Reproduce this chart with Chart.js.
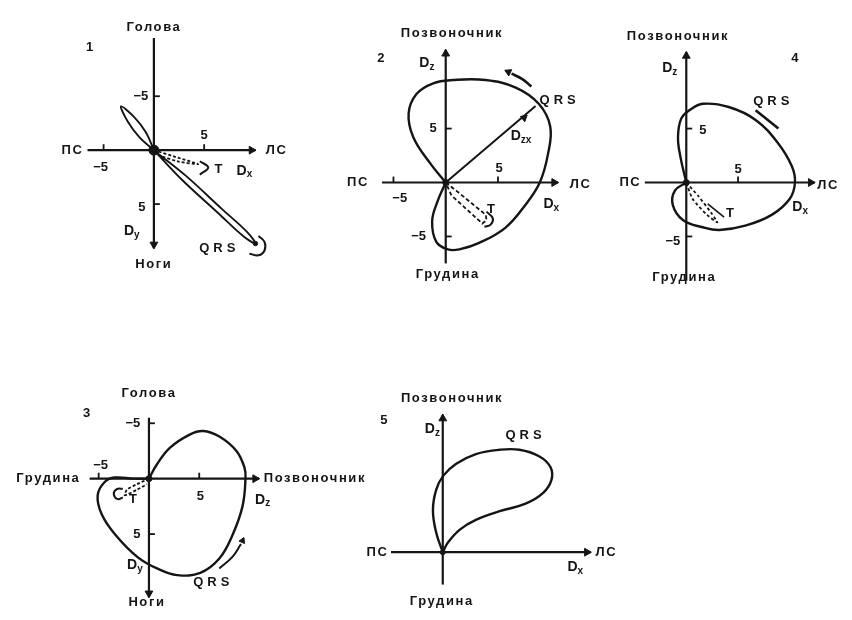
<!DOCTYPE html>
<html>
<head>
<meta charset="utf-8">
<script src="https://cdn.jsdelivr.net/npm/chart.js@4/dist/chart.umd.min.js"></script>
<style>
  body { margin: 0; background: #fff; }
  #vcg { display: block; }
</style>
</head>
<body>
<canvas id="vcg" width="852" height="620"></canvas>
<script>
// Векторкардиограммы: петли QRS и T в трёх плоскостях

// 1 - фронтальная плоскость (Dx, Dy вниз)
const qrs1 = [[0,0],[-0.8,-1.65],[-2.0,-3.1],[-3.27,-4.06],[-2.6,-2.65],[-1.45,-1.2],[0,0],
              [3.22,2.41],[6.75,5.44],[9.28,7.6],[10.1,8.66],[8.9,7.98],[6.38,5.82],[2.84,2.79],[0,0]];
const hook1 = [[10.4,7.95],[11.0,8.5],[11.0,9.3],[10.4,9.75],[9.5,9.6]];
const t1 = [[0,0],[2.4,0.7],[4.4,1.3],[2.4,1.05],[0.4,0.45]];
const tCurl1 = [[4.57,1.03],[5.4,1.6],[4.57,2.27]];

// 2 - горизонтальная плоскость (Dx, Dz)
const qrs2 = [[0,0],[-1.5,1.8],[-3.1,4.2],[-3.55,6.4],[-2.8,8.2],[-1.2,9.2],[0.7,9.5],[3.8,9.5],
              [6.7,8.8],[8.9,7.3],[10.0,5.2],[9.8,2.7],[9.0,0],[7.6,-2.1],[5.7,-4.2],[3.2,-5.6],
              [1.3,-6.2],[0.2,-6.2],[-0.9,-5.5],[-1.3,-3.6],[-0.8,-1.8],[0,0]];
const dzx2 = [[0,0],[8.6,7.1]];
const t2 = [[0,0],[1.0,-0.75],[3.84,-3.0],[3.9,-3.5],[3.5,-3.8],[0.55,-1.2],[0,0]];
const tCurl2 = [[3.9,-2.7],[4.5,-3.3],[4.3,-3.9],[3.7,-4.1]];
const qrsArrow2 = [[8.2,8.9],[7.3,9.6],[6.3,10.1]];

// 3 - сагиттальная плоскость (Dz, Dy вниз)
const qrs3 = [[0,0],[0.8,-1.3],[2.1,-2.8],[4.1,-4.0],[5.4,-4.3],[7.0,-3.8],[8.7,-2.5],[9.5,-1.0],
              [9.6,0],[9.3,2.5],[8.3,5.1],[7.0,7.2],[5.1,8.5],[2.8,8.7],[0.8,8.1],[-1.1,7.1],
              [-3.3,5.1],[-4.7,3.2],[-5.1,1.5],[-4.4,0.3],[-3.4,-0.1],[-1.5,0],[0,0]];
const t3 = [[0,0],[-1.2,0.5],[-2.2,1.0],[-2.4,1.5],[-1.2,1.0],[-0.2,0.5]];
const tCurl3 = [[-2.6,0.9],[-3.2,0.95],[-3.5,1.4],[-3.1,1.85],[-2.6,1.7]];
const qrsArrow3 = [[7.0,8.1],[8.3,7.06],[9.15,5.9]];

// 4 - горизонтальная плоскость, второй вариант
const qrs4 = [[0,0],[-0.57,2.4],[-0.8,4.2],[-0.5,5.9],[0.3,6.7],[1.6,7.3],[4.1,7.0],[6.7,5.8],
              [8.9,3.6],[10.2,1.5],[10.5,0],[10.0,-1.5],[8.25,-3.0],[5.7,-4.0],[3.2,-4.4],
              [1.6,-4.15],[-0.3,-3.5],[-1.3,-2.1],[-1.1,-0.75],[0,0]];
const t4 = [[0,0],[1.2,-1.3],[2.4,-2.8],[3.0,-3.7],[2.0,-3.0],[0.6,-1.5],[0,0]];
const tStroke4 = [[2.07,-1.97],[3.65,-3.2]];
const qrsArrow4 = [[6.7,6.7],[8.9,5.0]];

// 5 - горизонтальная плоскость, только QRS
const qrs5 = [[0,0],[-0.63,1.8],[-0.95,3.9],[-0.63,5.8],[0.06,7.1],[1.3,8.2],[3.2,9.1],[5.5,9.5],
              [7.4,9.5],[9.3,8.9],[10.4,7.9],[10.5,6.7],[9.7,5.5],[8.0,4.5],[5.5,3.8],[3.2,3.0],
              [1.65,2.1],[0.5,0.9],[0,0]];

// Деления осей
const ticks1x = [-5, 5], ticks1y = [-5, 5];
const ticks2x = [-5, 5], ticks2y = [-5, 5];
const ticks3x = [-5, 5], ticks3y = [-5, 5];
const ticks4x = [5],     ticks4y = [-5, 5];
const ticks5x = [],      ticks5y = [];

// Подписи осей
const names1 = { top: 'Голова', bottom: 'Ноги', left: 'ПС', right: 'ЛС', ax: 'D_x', ay: 'D_y' };
const names2 = { top: 'Позвоночник', bottom: 'Грудина', left: 'ПС', right: 'ЛС', ax: 'D_x', ay: 'D_z' };
const names3 = { top: 'Голова', bottom: 'Ноги', left: 'Грудина', right: 'Позвоночник', ax: 'D_z', ay: 'D_y' };
const names4 = { top: 'Позвоночник', bottom: 'Грудина', left: 'ПС', right: 'ЛС', ax: 'D_x', ay: 'D_z' };
const names5 = { top: 'Позвоночник', bottom: 'Грудина', left: 'ПС', right: 'ЛС', ax: 'D_x', ay: 'D_z' };

// ---------------------------------------------------------------------------

const W = 852, H = 620;
const INK = '#151515';

// origin in px, px per unit, axis extents in units
const panels = {
  1: { ox: 150, oy: 147, kx: 10.2, ky: 11,   down: true,  x0: -6.6, x1: 10.1, y0: -10.4, y1: 9.1 },
  2: { ox: 446, oy: 180, kx: 10.6, ky: 11,   down: false, x0: -6.1, x1: 10.75, y0: -7.5, y1: 12.3 },
  3: { ox: 145, oy: 482, kx: 10.2, ky: 11.3, down: true,  x0: -5.9, x1: 10.95, y0: -5.5, y1: 10.7 },
  4: { ox: 690, oy: 180, kx: 10.5, ky: 11,   down: false, x0: -4.0, x1: 12.4, y0: -9.1, y1: 12.1 },
  5: { ox: 443, oy: 557, kx: 10.5, ky: 11,   down: false, x0: -5.0, x1: 14.3, y0: -3.0, y1: 12.75 }
};

const scales = {};
for (const [id, p] of Object.entries(panels)) {
  scales['x' + id] = { type: 'linear', display: false, min: -p.ox / p.kx, max: (W - p.ox) / p.kx };
  if (p.down) {
    scales['y' + id] = { type: 'linear', display: false, reverse: true, min: -p.oy / p.ky, max: (H - p.oy) / p.ky };
  } else {
    scales['y' + id] = { type: 'linear', display: false, min: -(H - p.oy) / p.ky, max: p.oy / p.ky };
  }
}

function curve(id, pts, opt) {
  return Object.assign({
    type: 'scatter', data: pts, xAxisID: 'x' + id, yAxisID: 'y' + id,
    showLine: true, borderColor: INK, borderWidth: 2.4, pointRadius: 0,
    tension: 0.4, fill: false
  }, opt || {});
}

function marks(id, pts, style, radius, rotation, width) {
  return {
    type: 'scatter', data: pts, xAxisID: 'x' + id, yAxisID: 'y' + id,
    showLine: false, pointStyle: style, pointRadius: radius, pointRotation: rotation,
    backgroundColor: INK, borderColor: INK, borderWidth: width || 1
  };
}

const datasets = [];

// оси со стрелками и делениями
const allTicks = { 1: [ticks1x, ticks1y], 2: [ticks2x, ticks2y], 3: [ticks3x, ticks3y], 4: [ticks4x, ticks4y], 5: [ticks5x, ticks5y] };
for (const [id, p] of Object.entries(panels)) {
  datasets.push(curve(id, [[p.x0, 0], [p.x1, 0]], { tension: 0, borderWidth: 2.2 }));
  datasets.push(curve(id, [[0, p.y0], [0, p.y1]], { tension: 0, borderWidth: 2.2 }));
  datasets.push(marks(id, [[p.x1 - 4 / p.kx, 0]], 'triangle', 4.5, 90));
  if (p.down) datasets.push(marks(id, [[0, p.y1 - 4 / p.ky]], 'triangle', 4.5, 180));
  else datasets.push(marks(id, [[0, p.y1 - 4 / p.ky]], 'triangle', 4.5, 0));
  const up = p.down ? -1 : 1;
  const [tx, ty] = allTicks[id];
  if (tx.length) datasets.push(marks(id, tx.map(v => [v, up * 3 / p.ky]), 'line', 3, 90, 1.8));
  if (ty.length) datasets.push(marks(id, ty.map(v => [3 / p.kx, v]), 'line', 3, 0, 1.8));
}

// петли
datasets.push(curve(1, qrs1, { tension: 0.35, borderWidth: 1.9 }));
datasets.push(curve(1, hook1, { borderWidth: 2 }));
datasets.push(curve(1, t1, { borderWidth: 1.8, borderDash: [3, 2], tension: 0.2 }));
datasets.push(curve(1, tCurl1, { borderWidth: 2 }));
datasets.push(marks(1, [[0, 0]], 'circle', 5));
datasets.push(marks(1, [[10.1, 8.66]], 'circle', 2.2));

datasets.push(curve(2, qrs2));
datasets.push(curve(2, dzx2, { tension: 0, borderWidth: 2 }));
datasets.push(curve(2, t2, { borderWidth: 1.8, borderDash: [4, 2.5], tension: 0 }));
datasets.push(curve(2, tCurl2, { borderWidth: 2 }));
datasets.push(curve(2, qrsArrow2, { borderWidth: 2.6 }));
datasets.push(marks(2, [[6.0, 10.25]], 'triangle', 4, 295));
datasets.push(marks(2, [[7.5, 6.0]], 'triangle', 4, 50));
datasets.push(marks(2, [[0, 0]], 'circle', 3));

datasets.push(curve(3, qrs3));
datasets.push(curve(3, t3, { borderWidth: 1.8, borderDash: [3, 2], tension: 0.2 }));
datasets.push(curve(3, tCurl3, { borderWidth: 2 }));
datasets.push(curve(3, qrsArrow3, { borderWidth: 2 }));
datasets.push(marks(3, [[9.3, 5.6]], 'triangle', 3.5, 25));
datasets.push(marks(3, [[0, 0]], 'circle', 3));

datasets.push(curve(4, qrs4));
datasets.push(curve(4, t4, { borderWidth: 1.8, borderDash: [3, 2.5], tension: 0.2 }));
datasets.push(curve(4, tStroke4, { tension: 0, borderWidth: 1.6 }));
datasets.push(curve(4, qrsArrow4, { tension: 0, borderWidth: 2.6 }));
datasets.push(marks(4, [[0, 0]], 'circle', 3));

datasets.push(curve(5, qrs5));
datasets.push(marks(5, [[0, 0]], 'circle', 2.5));

// подписи: текст и место в единицах своей панели
const allNames = { 1: names1, 2: names2, 3: names3, 4: names4, 5: names5 };
const textMarks = [
  { p: 1, t: '1', x: -6.4, y: -9.5 },
  { p: 1, t: allNames[1].top, x: 0, y: -11.4 },
  { p: 1, t: allNames[1].bottom, x: 0, y: 10.6 },
  { p: 1, t: allNames[1].left, x: -8.1, y: 0 },
  { p: 1, t: allNames[1].right, x: 12.2, y: 0 },
  { p: 1, t: allNames[1].ax, x: 9.0, y: 1.9 },
  { p: 1, t: allNames[1].ay, x: -2.2, y: 7.5 },
  { p: 1, t: 'T', x: 6.5, y: 1.8 },
  { p: 1, t: 'QRS', x: 6.5, y: 9.1, qrs: true },
  { p: 1, t: String(ticks1x[0]), x: -5.3, y: 1.6 },
  { p: 1, t: String(ticks1x[1]), x: 5.0, y: -1.4 },
  { p: 1, t: String(ticks1y[0]), x: -1.3, y: -5.0 },
  { p: 1, t: String(ticks1y[1]), x: -1.2, y: 5.3 },

  { p: 2, t: '2', x: -6.2, y: 11.5 },
  { p: 2, t: allNames[2].top, x: 0.6, y: 13.8 },
  { p: 2, t: allNames[2].bottom, x: 0.2, y: -8.5 },
  { p: 2, t: allNames[2].left, x: -8.4, y: 0 },
  { p: 2, t: allNames[2].right, x: 12.9, y: -0.2 },
  { p: 2, t: allNames[2].ax, x: 10.1, y: -2.0 },
  { p: 2, t: allNames[2].ay, x: -1.8, y: 11.1 },
  { p: 2, t: 'D_zx', x: 7.2, y: 4.3 },
  { p: 2, t: 'T', x: 4.4, y: -2.5 },
  { p: 2, t: 'QRS', x: 10.9, y: 7.6, qrs: true },
  { p: 2, t: String(ticks2x[0]), x: -4.4, y: -1.5 },
  { p: 2, t: String(ticks2x[1]), x: 5.1, y: 1.3 },
  { p: 2, t: String(ticks2y[0]), x: -2.6, y: -5.0 },
  { p: 2, t: String(ticks2y[1]), x: -1.2, y: 5.0 },

  { p: 3, t: '3', x: -6.2, y: -5.9 },
  { p: 3, t: allNames[3].top, x: 0, y: -7.7 },
  { p: 3, t: allNames[3].bottom, x: -0.2, y: 11.2 },
  { p: 3, t: allNames[3].left, x: -10.0, y: 0 },
  { p: 3, t: allNames[3].right, x: 16.5, y: 0 },
  { p: 3, t: allNames[3].ax, x: 11.3, y: 1.9 },
  { p: 3, t: allNames[3].ay, x: -1.4, y: 7.8 },
  { p: 3, t: 'T', x: -1.5, y: 1.9 },
  { p: 3, t: 'QRS', x: 6.4, y: 9.4, qrs: true },
  { p: 3, t: String(ticks3x[0]), x: -4.8, y: -1.2 },
  { p: 3, t: String(ticks3x[1]), x: 5.1, y: 1.6 },
  { p: 3, t: String(ticks3y[0]), x: -1.6, y: -5.0 },
  { p: 3, t: String(ticks3y[1]), x: -1.2, y: 5.0 },

  { p: 4, t: '4', x: 10.5, y: 11.5 },
  { p: 4, t: allNames[4].top, x: -0.8, y: 13.5 },
  { p: 4, t: allNames[4].bottom, x: -0.2, y: -8.8 },
  { p: 4, t: allNames[4].left, x: -5.4, y: 0 },
  { p: 4, t: allNames[4].right, x: 13.7, y: -0.3 },
  { p: 4, t: allNames[4].ax, x: 11.0, y: -2.3 },
  { p: 4, t: allNames[4].ay, x: -1.6, y: 10.6 },
  { p: 4, t: 'T', x: 4.3, y: -2.9 },
  { p: 4, t: 'QRS', x: 8.4, y: 7.5, qrs: true },
  { p: 4, t: String(ticks4x[0]), x: 5.0, y: 1.2 },
  { p: 4, t: String(ticks4y[1]), x: 1.6, y: 4.8 },
  { p: 4, t: String(ticks4y[0]), x: -1.3, y: -5.5 },

  { p: 5, t: '5', x: -5.7, y: 12.2 },
  { p: 5, t: allNames[5].top, x: 0.9, y: 14.3 },
  { p: 5, t: allNames[5].bottom, x: -0.1, y: -4.6 },
  { p: 5, t: allNames[5].left, x: -6.3, y: 0 },
  { p: 5, t: allNames[5].right, x: 15.8, y: 0 },
  { p: 5, t: allNames[5].ax, x: 12.8, y: -1.4 },
  { p: 5, t: allNames[5].ay, x: -1.0, y: 11.4 },
  { p: 5, t: 'QRS', x: 8.0, y: 10.8, qrs: true }
];

function drawText(ctx, text, x, y, qrs) {
  const FONT = '"Liberation Sans", Arial, sans-serif';
  const num = /^-?\d+$/.test(text);
  const shown = text.replace('-', '\u2212');
  if (text.startsWith('D_')) {
    const sub = text.slice(2);
    ctx.letterSpacing = '0px';
    ctx.font = 'bold 14px ' + FONT;
    const wD = ctx.measureText('D').width;
    ctx.font = 'bold 10px ' + FONT;
    const wS = ctx.measureText(sub).width;
    const left = x - (wD + wS) / 2;
    ctx.textAlign = 'left';
    ctx.font = 'bold 14px ' + FONT;
    ctx.fillText('D', left, y);
    ctx.font = 'bold 10px ' + FONT;
    ctx.fillText(sub, left + wD, y + 4);
    ctx.textAlign = 'center';
    return;
  }
  ctx.font = 'bold 13px ' + FONT;
  ctx.letterSpacing = qrs ? '4px' : (num ? '0px' : '1.6px');
  ctx.fillText(shown, x, y);
}

const textPlugin = {
  id: 'vcgText',
  afterDatasetsDraw(chart) {
    const ctx = chart.ctx;
    ctx.save();
    ctx.fillStyle = INK;
    ctx.textAlign = 'center';
    ctx.textBaseline = 'middle';
    for (const m of textMarks) {
      const px = chart.scales['x' + m.p].getPixelForValue(m.x);
      const py = chart.scales['y' + m.p].getPixelForValue(m.y);
      drawText(ctx, m.t, px, py, m.qrs);
    }
    ctx.restore();
  }
};

new Chart(document.getElementById('vcg'), {
  type: 'scatter',
  data: { datasets: datasets },
  options: {
    responsive: false,
    animation: false,
    layout: { padding: 0 },
    scales: scales,
    plugins: { legend: { display: false }, tooltip: { enabled: false } }
  },
  plugins: [textPlugin]
});
</script>
</body>
</html>
